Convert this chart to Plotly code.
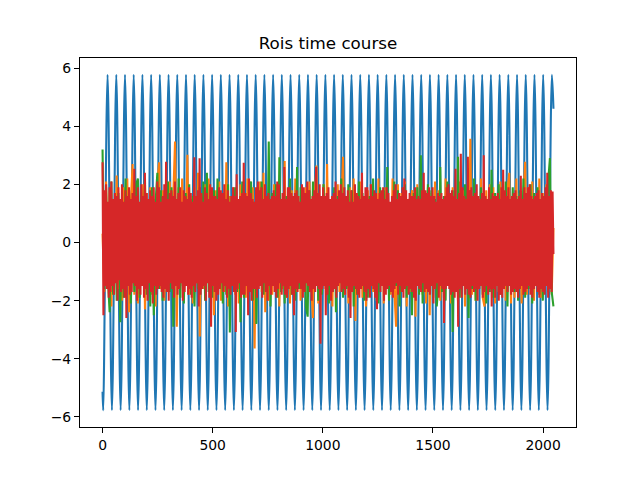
import numpy as np
import plotly.graph_objects as go

# ---------------- data ----------------
# blue ROI: a regular oscillation; times of its troughs and peaks
blue_trough_t = [3.0, 42.6, 82.1, 121.7, 161.2, 200.8, 240.3, 279.9, 319.4, 359.0, 398.5, 438.1, 477.6,
                 517.2, 556.7, 596.3, 635.8, 675.4, 714.9, 754.5, 794.0, 833.6, 873.1, 912.7, 952.2,
                 991.8, 1031.3, 1070.9, 1110.4, 1150.0, 1189.5, 1229.1, 1268.6, 1308.2, 1347.7, 1387.3,
                 1426.8, 1466.4, 1505.9, 1545.5, 1585.0, 1624.6, 1664.1, 1703.7, 1743.2, 1782.8, 1822.3,
                 1861.9, 1901.4, 1941.0, 1980.5, 2020.1]
blue_peak_t = [22.8, 62.4, 101.9, 141.5, 181.0, 220.6, 260.1, 299.7, 339.2, 378.8, 418.3, 457.9, 497.4,
               537.0, 576.5, 616.1, 655.6, 695.2, 734.7, 774.3, 813.8, 853.4, 892.9, 932.5, 972.0,
               1011.6, 1051.1, 1090.7, 1130.2, 1169.8, 1209.3, 1248.9, 1288.4, 1328.0, 1367.5, 1407.1,
               1446.6, 1486.2, 1525.7, 1565.3, 1604.8, 1644.4, 1683.9, 1723.5, 1763.0, 1802.6, 1842.1,
               1881.7, 1921.2, 1960.8, 2000.3, 2039.9]
blue_trough_v = -5.77
blue_peak_v = 5.77
blue_start = (0, -5.13)
blue_end = (2047, 4.6)

# orange and green ROIs, sampled every ~8 time points
t_noise = np.linspace(0, 2047, 256)

orange = [
    0.3, -1.7, 2.1, -1.4, 1.8, -2.2, 1.5, -1.3, 2.3, -1.6, 1.2, -2.0, 1.9, -1.5, 2.2, -2.4,
    1.4, 2.7, -1.8, 1.6, -2.1, 1.2, -1.5, 2.0, -2.3, 1.7, -1.3, 1.9, -1.8, 1.5, -2.2, 2.1,
    2.76, -1.6, 1.8, -2.0, 1.4, -1.7, 2.1, -1.2, 1.6, 3.47, -2.9, 1.9, -1.5, 2.2, -1.9, 1.2,
    3.02, -1.8, 1.5, -2.1, 1.9, -1.4, 2.4, -3.23, 1.7, -1.6, 2.0, -1.3, 2.2, -1.9, 1.4, -2.5,
    1.8, -1.5, 2.1, -2.0, 1.2, -1.7, 2.76, -2.2, 1.6, -1.4, 1.9, -1.8, 1.5, -2.1, 2.0, -1.2,
    1.7, -1.9, 2.2, -1.6, 1.4, 1.9, -3.65, 1.8, -1.5, 2.1, -1.7, 2.4, -2.4, 1.6, -2.0, 1.2,
    -1.8, 2.0, -1.4, 1.7, -2.2, 1.5, -1.6, 2.8, -1.9, 1.2, -2.1, 1.8, -1.5, 2.2, -1.7, 1.4,
    -2.0, 1.6, -1.2, 1.9, -1.8, 2.1, -1.5, -2.6, 1.7, 2.65, -2.1, 1.4, -1.7, 2.0, -1.6, 2.7,
    -1.9, 1.5, -2.2, 1.8, -1.4, 2.0, -1.7, 1.2, 2.95, -1.8, 1.6, -2.1, 1.9, -1.5, 2.2, -2.7,
    1.7, -1.6, 2.1, -1.9, 1.4, -2.2, 1.8, -1.2, 2.0, -1.7, 1.5, -2.0, 2.2, -1.4, 1.6, -2.1,
    1.9, -1.5, 1.2, -1.8, 2.2, -1.6, -2.9, 2.0, -1.9, 1.7, -1.4, 2.1, -2.2, 1.5, -1.7, 1.8,
    1.6, -2.55, 2.0, -1.5, 2.2, -1.8, 1.2, -2.1, 1.9, -2.5, 1.7, -1.6, 2.1, -1.2, 1.8, -2.0,
    1.5, -1.9, 2.2, -1.4, 1.6, -2.1, 1.9, -1.7, 1.2, -2.0, 2.1, -1.5, 1.8, -2.2, 1.4, -1.6,
    3.57, -1.8, 1.7, -2.0, 1.5, -1.4, 2.2, -1.9, -2.2, 1.8, -1.6, 2.0, -1.2, 1.9, -2.1, 1.6,
    -1.7, 2.1, -1.5, 1.4, -2.0, 1.8, 2.4, -2.1, 1.6, -1.9, 2.2, -1.4, 1.7, -2.1, 1.5, 2.78,
    -1.8, 1.9, -1.6, 2.1, -2.0, 1.2, -1.5, 2.2, -1.9, 1.7, -1.2, 2.0, -1.7, 1.6, -1.8, 0.5,
]

green = [
    3.2, -1.6, 1.9, -1.2, -2.4, 2.1, -1.8, 1.5, -2.0, 1.7, -2.74, 1.4, -1.9, 2.2, -1.5, 1.8,
    -2.1, 1.2, -1.7, 2.0, 2.2, -1.9, 1.6, -1.4, 2.2, -1.8, 1.5, -2.2, 1.9, -2.5, 1.4, 2.4,
    -1.6, 1.8, -2.0, 1.5, -1.2, 2.1, -1.7, 1.9, -2.9, 1.6, -1.5, 2.2, -1.9, 1.2, -2.1, 1.7,
    -1.4, 2.0, -1.8, 1.6, -2.2, 1.2, -1.6, 1.9, -1.5, 2.1, -2.0, 2.4, -1.7, 1.4, -1.9, 1.8,
    -1.5, 2.2, -1.2, 1.7, -2.1, 1.5, -1.8, 2.0, -3.1, 1.6, -1.4, 1.9, -1.7, 1.2, -2.74, 2.1,
    -1.9, 1.6, -1.5, 1.8, 2.1, -2.0, 1.4, -2.8, 1.9, -1.2, 2.1, -1.8, 1.5, -1.6, 3.47, -2.2,
    1.7, -1.4, 2.0, -1.9, 2.93, -1.7, 1.2, -2.1, 1.6, -1.5, 2.2, -1.8, 1.4, -2.0, 2.6, -1.6,
    1.9, -1.2, 1.5, -2.2, -2.55, 1.8, -1.6, 2.1, -1.4, 1.7, -2.0, 1.2, -1.8, 2.0, -1.5, 1.6,
    -2.1, 1.4, -1.7, 1.9, -2.4, 1.6, -1.2, 2.2, -1.9, 1.5, -1.6, 2.0, -1.4, 1.8, -2.2, 1.2,
    -1.8, 2.1, -1.5, 1.7, -2.0, 1.4, -1.9, 1.6, -1.2, 2.2, -1.7, 1.5, -2.1, 1.9, -1.4, 1.8,
    -1.6, 2.6, -2.0, 1.2, -1.7, 2.1, -1.5, 1.8, -2.2, 1.6, -1.4, 2.0, -1.9, 1.5, 1.2, -2.5,
    1.7, -1.5, 1.9, -1.8, 3.0, -2.1, 1.4, -1.6, 2.0, -1.2, 1.8, -1.9, 1.5, -2.2, -1.4, 2.6,
    -1.7, 1.6, -2.0, 2.1, -1.4, 1.5, -3.08, 1.8, -1.6, 2.95, -1.9, 1.2, -1.5, 2.0, 1.4, -2.6,
    1.8, -1.6, 2.2, -2.0, 1.4, -1.2, 1.9, -1.8, 1.6, -2.1, 1.5, -1.7, 2.5, -1.9, 1.7, -1.4,
    2.0, -1.8, 1.2, -1.6, 2.1, -2.2, 1.5, -1.4, 1.9, -1.7, 1.6, -2.0, 1.8, -1.2, 2.2, -1.9,
    1.4, -1.6, 2.0, -2.1, 1.7, -1.5, 1.9, -1.8, 1.2, -2.0, 1.6, -1.4, 2.1, 2.9, -1.7, -2.2,
]

# red ROI, sampled every ~4 time points (it covers the others)
t_red = np.linspace(0, 2047, 512)

red = [
    2.76, -2.5, 1.8, -1.5, 2.0, -1.6, 1.4, -1.9, 1.9, -1.7, 2.1, -1.5, 1.5, -1.8, 1.7, -1.4,
    1.6, -2.0, 1.9, -1.3, 1.5, -1.7, 2.0, -1.6, 1.4, -1.9, 1.8, -2.6, 1.6, -1.5, 1.9, -1.8,
    1.5, -1.7, 1.7, -1.4, 2.54, -1.5, 1.6, -2.0, 1.9, -1.6, 1.4, -1.8, 2.0, -1.5, 1.6, -1.9,
    2.4, -1.6, 1.7, -2.0, 1.5, -1.4, 1.8, -1.7, 1.6, -2.1, 1.9, -1.5, 1.4, -1.8, 2.1, -1.6,
    1.9, -1.5, 1.4, -1.7, 1.6, -1.9, 2.0, -1.6, 2.78, -1.7, 1.5, -2.0, 1.7, -1.4, 1.8, -1.6,
    1.6, -1.9, 2.1, -1.5, 1.5, -1.8, 1.7, -1.6, 1.9, -1.4, 1.4, -2.0, 1.8, -1.7, 1.6, -1.5,
    1.5, -1.8, 1.9, -1.6, 1.7, -1.9, 1.4, -1.5, 2.93, -1.7, 1.6, -1.4, 1.8, -2.2, 2.9, -1.8,
    1.7, -1.6, 1.4, -1.5, 1.9, -2.0, 1.7, -1.4, 1.5, -1.9, 2.0, -2.9, 1.9, -1.5, 1.6, -1.7,
    1.6, -2.0, 1.5, -1.8, 1.9, -1.6, 1.8, -1.4, 1.7, -1.7, 2.0, -1.5, 1.5, -1.9, 1.8, -1.6,
    1.4, -1.8, 1.6, -1.5, 1.9, -1.7, 1.6, -3.08, 2.35, -1.6, 1.5, -1.4, 1.6, -1.9, 1.7, -1.8,
    2.74, -1.8, 1.7, -1.5, 1.6, -2.5, 2.2, -1.7, 1.7, -2.0, 1.5, -1.6, 1.4, -1.6, 1.9, -1.9,
    2.1, -1.6, 1.8, -1.5, 1.9, -1.9, 1.5, -1.4, 2.0, -1.7, 1.6, -2.0, 1.7, -1.5, 1.5, -1.8,
    1.6, -1.5, 1.8, -1.7, 1.6, -1.9, 2.1, -1.6, 2.0, -1.4, 1.5, -1.8, 1.7, -1.5, 2.6, -1.8,
    1.5, -1.9, 1.9, -1.6, 1.9, -1.5, 1.7, -1.8, 1.6, -2.5, 1.7, -1.6, 1.8, -1.7, 1.6, -1.4,
    1.4, -1.6, 2.0, -1.9, 1.9, -1.7, 1.7, -1.4, 2.1, -1.5, 1.8, -1.7, 1.5, -2.0, 1.6, -1.6,
    1.8, -1.7, 2.6, -1.5, 1.7, -1.6, 2.0, -3.48, 1.6, -1.6, 1.9, -1.5, 1.6, -2.5, 1.7, -1.8,
    1.9, -1.5, 1.5, -2.0, 1.6, -1.7, 1.7, -1.6, 2.1, -1.9, 1.5, -1.5, 1.8, -1.4, 2.0, -1.7,
    1.7, -1.6, 1.9, -1.8, 1.6, -1.5, 1.8, -1.9, 1.4, -2.6, 1.8, -1.7, 1.4, -1.5, 2.0, -1.6,
    1.7, -1.8, 1.6, -1.9, 1.5, -1.6, 2.4, -1.5, 1.6, -1.7, 1.9, -2.0, 1.9, -1.6, 1.5, -1.9,
    2.0, -1.5, 1.6, -1.6, 1.8, -1.9, 1.7, -2.3, 1.5, -1.4, 1.7, -1.7, 1.8, -1.5, 1.9, -2.0,
    1.5, -1.8, 1.9, -1.6, 1.7, -1.5, 1.4, -1.7, 1.6, -1.9, 1.8, -1.6, 2.0, -1.4, 1.5, -1.8,
    1.7, -1.5, 1.6, -1.7, 1.9, -1.9, 2.2, -1.6, 1.8, -1.5, 1.5, -1.8, 1.7, -1.6, 1.6, -1.7,
    1.6, -1.9, 1.9, -2.0, 1.5, -1.5, 1.6, -1.6, 1.5, -1.7, 1.8, -1.4, 2.4, -1.7, 1.8, -1.6,
    1.7, -1.7, 1.9, -1.8, 1.6, -1.5, 1.9, -2.1, 1.6, -1.6, 1.4, -1.4, 1.7, -1.9, 1.6, -1.5,
    1.7, -1.6, 1.5, -2.77, 1.6, -1.6, 1.9, -1.5, 2.0, -1.6, 1.7, -1.8, 1.8, -1.7, 1.6, -1.9,
    2.54, -1.7, 1.5, -2.9, 1.7, -1.6, 3.05, -1.9, 1.9, -1.5, 1.6, -1.8, 1.5, -1.6, 2.95, -1.8,
    1.8, -1.9, 1.9, -1.5, 1.6, -1.7, 1.7, -1.6, 2.0, -2.0, 1.6, -1.6, 1.5, -1.5, 1.7, -1.9,
    3.0, -1.7, 1.6, -1.5, 1.5, -1.8, 1.9, -1.6, 1.5, -2.2, 1.7, -1.6, 1.6, -1.9, 1.6, -1.5,
    1.7, -2.0, 1.5, -1.8, 1.9, -1.9, 2.5, -1.6, 1.8, -1.5, 1.6, -1.7, 1.9, -1.5, 1.5, -1.8,
    1.6, -1.7, 1.7, -1.6, 1.8, -1.7, 1.5, -1.9, 1.6, -1.6, 2.3, -1.5, 1.5, -1.8, 1.9, -1.7,
    1.7, -1.6, 1.9, -1.5, 2.0, -1.8, 1.6, -1.9, 1.5, -1.6, 1.6, -1.5, 1.7, -1.7, 1.8, -1.9,
    1.5, -1.6, 1.7, -1.7, 1.6, -1.8, 1.9, -1.5, 2.4, -1.9, 1.6, -1.6, 1.8, -1.7, 1.75, -0.4,
]

title_text = "Rois time course"
x_ticks = [0, 500, 1000, 1500, 2000]
y_ticks = [-6, -4, -2, 0, 2, 4, 6]

# ---------------- build blue vertex sequence ----------------
pts = [blue_start]
pts += [(t, blue_trough_v) for t in blue_trough_t]
pts += [(t, blue_peak_v) for t in blue_peak_t]
pts.append(blue_end)
pts.sort(key=lambda p: p[0])
blue_t = [p[0] for p in pts]
blue_v = [p[1] for p in pts]

colors = ["#1f77b4", "#ff7f0e", "#2ca02c", "#d62728"]
lw = 2.08  # 1.5 pt at 100 dpi

fig = go.Figure()
fig.add_trace(go.Scatter(x=blue_t, y=blue_v, mode="lines",
                         line=dict(color=colors[0], width=lw, shape="spline", smoothing=1.0)))
fig.add_trace(go.Scatter(x=t_noise, y=orange, mode="lines", line=dict(color=colors[1], width=lw)))
fig.add_trace(go.Scatter(x=t_noise, y=green, mode="lines", line=dict(color=colors[2], width=lw)))
fig.add_trace(go.Scatter(x=t_red, y=red, mode="lines", line=dict(color=colors[3], width=lw)))

font = "DejaVu Sans, Liberation Sans, sans-serif"
axis_common = dict(showline=True, linecolor="black", linewidth=1.1, mirror=True,
                   ticks="outside", ticklen=5, tickwidth=1.1, tickcolor="black",
                   showgrid=False, zeroline=False,
                   tickfont=dict(family=font, size=13.9, color="black"))

fig.update_layout(
    width=640, height=480,
    margin=dict(l=80, r=64, t=57.6, b=52.8, pad=0),
    paper_bgcolor="white", plot_bgcolor="white",
    showlegend=False,
    title=dict(text=title_text, x=0.5, xref="paper", xanchor="center",
               y=1 - 43 / 480, yref="container", yanchor="middle",
               font=dict(family=font, size=16.7, color="black")),
    xaxis=dict(range=[-102.35, 2149.35], tickvals=x_ticks, **axis_common),
    yaxis=dict(range=[-6.347, 6.347], tickvals=y_ticks, **axis_common),
)

fig.write_html("out.html")
